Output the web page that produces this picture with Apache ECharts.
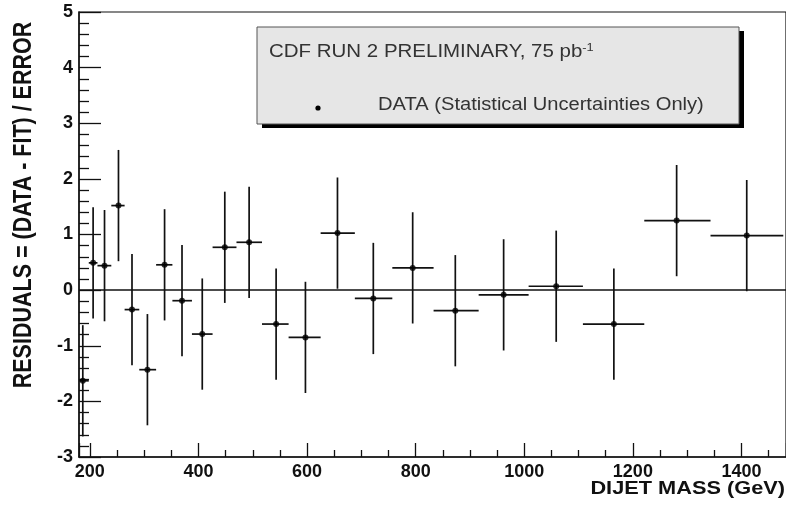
<!DOCTYPE html>
<html><head><meta charset="utf-8">
<script src="https://cdn.jsdelivr.net/npm/echarts@6/dist/echarts.min.js"></script>
<style>html,body{margin:0;padding:0;background:#fff}#c{width:786px;height:508px}</style>
</head><body><div id="c"></div>
<script>
// ---- data ----
const massCenters = [187, 206, 227, 252.7, 277.6, 306, 337.6, 369.7, 407, 448.5, 493.3, 543, 597, 656, 722, 794.5, 873, 962, 1058.8, 1165, 1280.6, 1409.7];
const binLow  = [180, 198, 214, 239.5, 264, 291, 322, 352, 388, 426, 470, 517, 566, 625, 688, 757, 833, 916, 1008, 1108, 1221, 1343];
const binHigh = [198, 214, 239.5, 264, 291, 322, 352, 388, 426, 470, 517, 566, 625, 688, 757, 833, 916, 1008, 1108, 1221, 1343, 1477];
const residuals = [-1.63, 0.49, 0.44, 1.52, -0.35, -1.43, 0.455, -0.19, -0.79, 0.77, 0.86, -0.61, -0.85, 1.025, -0.15, 0.40, -0.37, -0.085, 0.07, -0.61, 1.25, 0.98];
const residualErrors = [1, 1, 1, 1, 1, 1, 1, 1, 1, 1, 1, 1, 1, 1, 1, 1, 1, 1, 1, 1, 1, 1];
const xRange = [180, 1482];
const yRange = [-3, 5];
const xTitle = 'DIJET MASS (GeV)';
const yTitle = 'RESIDUALS = (DATA - FIT) / ERROR';
const boxTitle = 'CDF RUN 2 PRELIMINARY, 75 pb';
const boxTitleSup = '-1';
const boxEntry = 'DATA (Statistical Uncertainties Only)';

const FONT = '"Liberation Sans", Arial, Helvetica, sans-serif';
const errData = massCenters.map((x, i) => [x, residuals[i], binLow[i], binHigh[i], residualErrors[i]]);
const pointData = massCenters.map((x, i) => [x, residuals[i]]);

const chart = echarts.init(document.getElementById('c'), null, {renderer: 'canvas'});
chart.setOption({
  animation: false,
  backgroundColor: '#fff',
  grid: {left: 79, top: 12, width: 717, height: 445, show: true, borderColor: '#111', borderWidth: 1.2, backgroundColor: 'transparent'},
  xAxis: {
    type: 'value', min: xRange[0], max: xRange[1], splitNumber: 6, minInterval: 200, maxInterval: 200,
    axisLine: {show: true, onZero: false, lineStyle: {color: '#111', width: 1.5}},
    axisTick: {show: true, inside: true, length: 14, lineStyle: {color: '#111', width: 1.3}},
    minorTick: {show: true, splitNumber: 4, length: 7, lineStyle: {color: '#111', width: 1.3}},
    splitLine: {show: false}, minorSplitLine: {show: false},
    axisLabel: {show: true, showMinLabel: false, showMaxLabel: false, margin: 6, color: '#111', fontSize: 18, fontWeight: 'bold', fontFamily: FONT,
      formatter: function (v) { return String(v); }}
  },
  yAxis: {
    type: 'value', min: yRange[0], max: yRange[1], interval: 1,
    axisLine: {show: true, onZero: false, lineStyle: {color: '#111', width: 1.5}},
    axisTick: {show: true, inside: true, length: 22, lineStyle: {color: '#111', width: 1.3}},
    minorTick: {show: true, splitNumber: 5, length: 10, lineStyle: {color: '#111', width: 1.3}},
    splitLine: {show: false}, minorSplitLine: {show: false},
    axisLabel: {show: true, margin: 6, color: '#111', fontSize: 18, fontWeight: 'bold', fontFamily: FONT,
      formatter: function (v) { return String(v); }}
  },
  series: [
    {
      type: 'custom',
      data: errData,
      renderItem: function (params, api) {
        const xc = api.value(0), y = api.value(1), lo = api.value(2), hi = api.value(3), e = api.value(4);
        const pL = api.coord([lo, y]), pR = api.coord([hi, y]);
        const pT = api.coord([xc, y + e]), pB = api.coord([xc, y - e]);
        const st = {stroke: '#111', lineWidth: 1.7};
        return {type: 'group', children: [
          {type: 'line', shape: {x1: pL[0], y1: pL[1], x2: pR[0], y2: pR[1]}, style: st},
          {type: 'line', shape: {x1: pT[0], y1: pT[1], x2: pB[0], y2: pB[1]}, style: st}
        ]};
      },
      z: 3
    },
    {
      type: 'scatter',
      data: pointData,
      symbol: 'circle', symbolSize: 6,
      itemStyle: {color: '#000'},
      z: 4,
      markLine: {
        silent: true, symbol: 'none', label: {show: false},
        lineStyle: {color: '#111', width: 1.5, type: 'solid'},
        data: [{yAxis: 0}]
      }
    }
  ],
  graphic: [
    {type: 'rect', shape: {x: 262, y: 31, width: 482, height: 97}, style: {fill: '#000'}, z: 10},
    {type: 'rect', shape: {x: 257, y: 27, width: 482, height: 97}, style: {fill: '#e6e6e6', stroke: '#555', lineWidth: 1}, z: 11},
    {type: 'text', x: 269, y: 52, scaleX: 1.17, z: 12,
      style: {text: '{m|' + boxTitle + '}{s|' + boxTitleSup + '}', verticalAlign: 'middle', align: 'left',
        rich: {m: {fontSize: 17.5, fontFamily: FONT, fill: '#333', lineHeight: 20},
               s: {fontSize: 11, fontFamily: FONT, fill: '#333', lineHeight: 12, verticalAlign: 'top'}}}},
    {type: 'circle', shape: {cx: 318, cy: 108, r: 2.6}, style: {fill: '#000'}, z: 12},
    {type: 'text', x: 378, y: 105, scaleX: 1.15, z: 12,
      style: {text: boxEntry, fontSize: 17.5, fontFamily: FONT, fill: '#333', verticalAlign: 'middle', align: 'left'}},
    {type: 'text', x: 785, y: 489, scaleX: 1.17, z: 12,
      style: {text: xTitle, fontSize: 18.6, fontWeight: 'bold', fontFamily: FONT, fill: '#111', verticalAlign: 'middle', align: 'right'}},
    {type: 'text', x: 24, y: 205, rotation: Math.PI / 2, scaleY: 1.17, z: 12,
      style: {text: yTitle, fontSize: 21.5, fontWeight: 'bold', fontFamily: FONT, fill: '#111', verticalAlign: 'middle', align: 'center'}}
  ]
});
</script></body></html>
